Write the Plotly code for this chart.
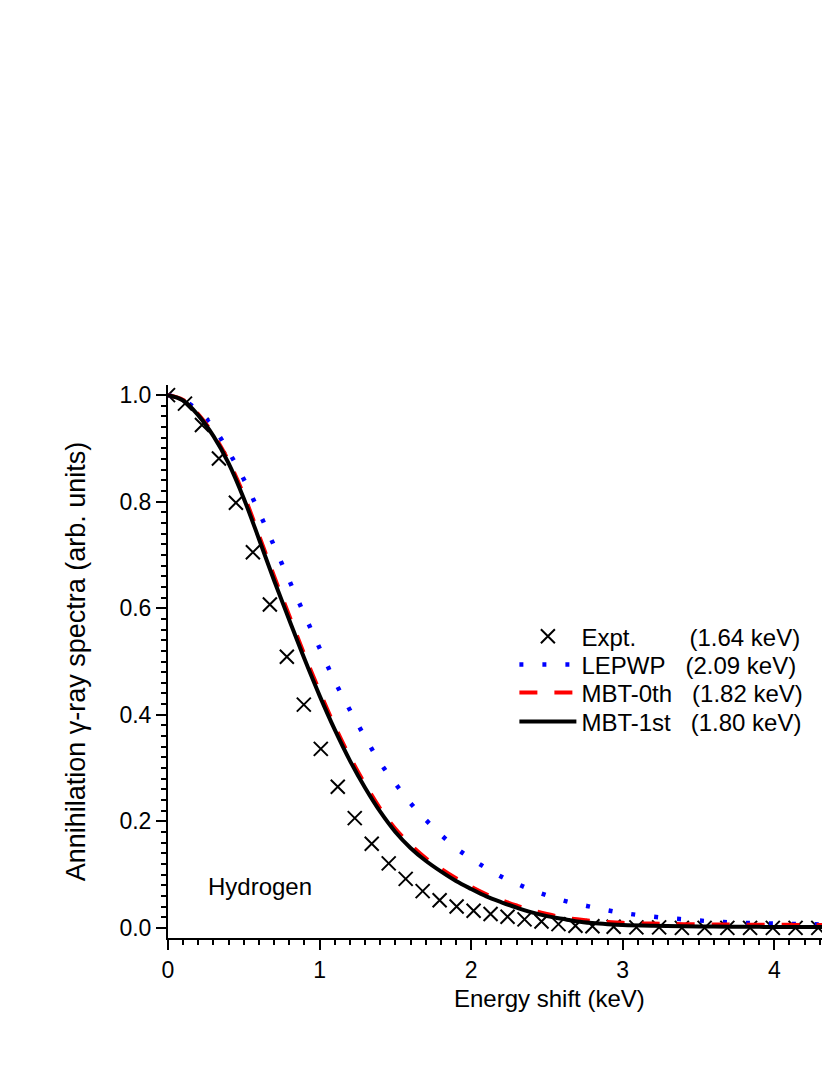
import plotly.graph_objects as go

# experimental points (Hydrogen)
energy_expt = [0.000, 0.112, 0.224, 0.336, 0.448, 0.560, 0.672, 0.784, 0.896, 1.008,
               1.120, 1.232, 1.344, 1.456, 1.568, 1.680, 1.792, 1.904, 2.016, 2.128,
               2.240, 2.352, 2.464, 2.576, 2.688, 2.800, 2.94, 3.09, 3.24, 3.39,
               3.54, 3.69, 3.84, 3.99, 4.14, 4.29]
expt = [1.000, 0.984, 0.944, 0.881, 0.798, 0.705, 0.607, 0.509, 0.419, 0.336,
        0.265, 0.206, 0.158, 0.121, 0.092, 0.069, 0.052, 0.040, 0.032, 0.026,
        0.021, 0.016, 0.012, 0.007, 0.004, 0.003, 0.002, 0.001, 0.001, 0.0,
        0.0, 0.0, 0.0, 0.0, 0.0, 0.0]

# theory curves
energy = [0.0, 0.1, 0.2, 0.3, 0.4, 0.5, 0.6, 0.7, 0.8, 0.9,
          1.0, 1.1, 1.2, 1.3, 1.4, 1.5, 1.6, 1.7, 1.8, 1.9,
          2.0, 2.1, 2.2, 2.3, 2.4, 2.5, 2.6, 2.7, 2.8, 2.9,
          3.0, 3.2, 3.4, 3.6, 3.8, 4.0, 4.2, 4.4]
lepwp = [1.000, 0.991, 0.970, 0.939, 0.894, 0.842, 0.781, 0.717, 0.652, 0.588,
         0.525, 0.463, 0.409, 0.358, 0.310, 0.271, 0.234, 0.203, 0.175, 0.150,
         0.130, 0.112, 0.096, 0.083, 0.071, 0.061, 0.052, 0.045, 0.039, 0.033,
         0.028, 0.021, 0.016, 0.012, 0.0095, 0.008, 0.007, 0.006]
mbt0 = [1.000, 0.991, 0.964, 0.926, 0.876, 0.813, 0.737, 0.660, 0.586, 0.513,
        0.444, 0.379, 0.321, 0.270, 0.224, 0.186, 0.156, 0.131, 0.111, 0.093,
        0.077, 0.063, 0.052, 0.042, 0.033, 0.026, 0.020, 0.016, 0.013, 0.011,
        0.0095, 0.008, 0.007, 0.0065, 0.006, 0.0058, 0.0056, 0.0055]
mbt1 = [1.000, 0.990, 0.962, 0.923, 0.872, 0.806, 0.730, 0.652, 0.578, 0.505,
        0.436, 0.372, 0.314, 0.263, 0.218, 0.180, 0.150, 0.126, 0.106, 0.088,
        0.073, 0.059, 0.048, 0.038, 0.029, 0.022, 0.017, 0.012, 0.009, 0.007,
        0.0055, 0.004, 0.003, 0.0025, 0.002, 0.0018, 0.0016, 0.0015]

NB = "\u00a0"
names = ["Expt." + NB * 8 + "(1.64 keV)",
         "LEPWP" + NB * 3 + "(2.09 keV)",
         "MBT-0th" + NB * 3 + "(1.82 keV)",
         "MBT-1st" + NB * 3 + "(1.80 keV)"]
legend_rows = [0.545, 0.494, 0.443, 0.391]

FONT = "Liberation Sans, Arial, sans-serif"

traces = [
    go.Scatter(x=energy_expt, y=expt, mode="markers", name=names[0], legend="legend",
               marker=dict(symbol="x-thin", size=14, color="black",
                           line=dict(width=2, color="black"))),
    go.Scatter(x=energy, y=lepwp, mode="lines", name=names[1], legend="legend2",
               line_shape="spline",
               line=dict(color="#0000ff", width=4.5, dash="4px,19px")),
    go.Scatter(x=energy, y=mbt0, mode="lines", name=names[2], legend="legend3",
               line_shape="spline",
               line=dict(color="#ff0000", width=4, dash="18px,17px")),
    go.Scatter(x=energy, y=mbt1, mode="lines", name=names[3], legend="legend4",
               line_shape="spline",
               line=dict(color="black", width=4)),
]

fig = go.Figure(data=traces)

axis_common = dict(
    showline=True, linecolor="black", linewidth=2,
    ticks="outside", ticklen=10, tickwidth=2, tickcolor="black",
    showgrid=False, zeroline=False,
    tickfont=dict(family=FONT, size=23, color="black"),
)

fig.update_xaxes(range=[0, 4.42], dtick=1, tick0=0,
                 minor=dict(dtick=0.1, ticklen=5, tickwidth=2, ticks="outside", tickcolor="black"),
                 **axis_common)
fig.update_yaxes(range=[-0.019, 1.019], dtick=0.2, tick0=0, tickformat=".1f",
                 minor=dict(dtick=0.02, ticklen=5, tickwidth=2, ticks="outside", tickcolor="black"),
                 title=dict(text="Annihilation γ-ray spectra (arb. units)",
                            font=dict(family=FONT, size=27, color="black"), standoff=26),
                 **axis_common)

fig.add_annotation(text="Energy shift (keV)", xref="paper", yref="paper",
                   x=0.5687, y=-0.1085, xanchor="center", yanchor="middle",
                   showarrow=False, font=dict(family=FONT, size=24, color="black"))
fig.add_annotation(text="Hydrogen", xref="x", yref="y", x=0.25, y=0.077,
                   xanchor="left", yanchor="middle", showarrow=False,
                   font=dict(family=FONT, size=24, color="black"))

legend_style = dict(x=0.517, xanchor="left", yanchor="middle", bgcolor="rgba(0,0,0,0)",
                    font=dict(family=FONT, size=24, color="black"), itemwidth=57)

fig.update_layout(
    width=830, height=1075,
    margin=dict(l=160, r=0, t=377, b=145),
    plot_bgcolor="white", paper_bgcolor="white",
    showlegend=True,
    legend=dict(y=legend_rows[0], **legend_style),
    legend2=dict(y=legend_rows[1], **legend_style),
    legend3=dict(y=legend_rows[2], **legend_style),
    legend4=dict(y=legend_rows[3], **legend_style),
)

fig.write_html("out.html")
